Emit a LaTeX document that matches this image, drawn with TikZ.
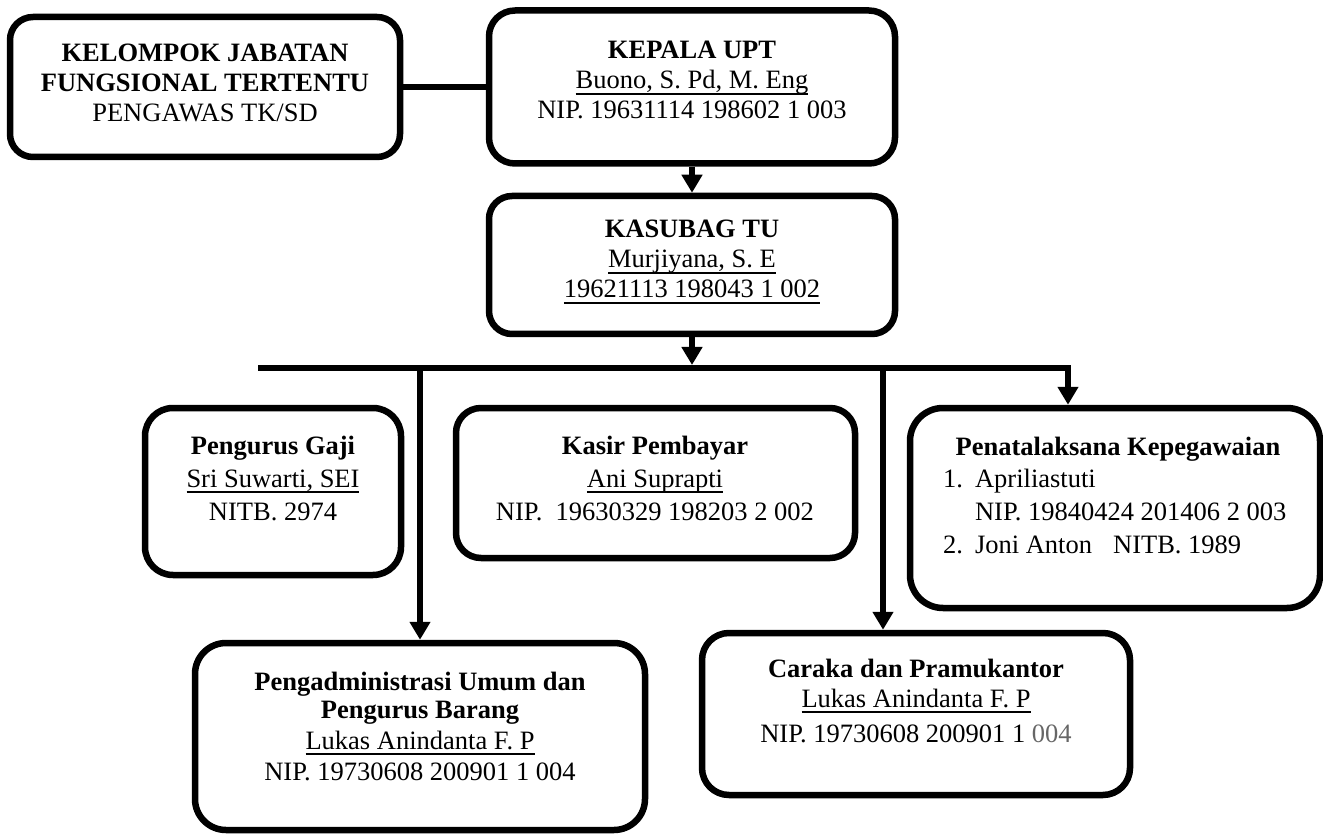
\documentclass[tikz,border=0pt]{standalone}
\usepackage{fontspec}
\setmainfont{Liberation Serif}
\usetikzlibrary{arrows.meta}
\newcommand\myul[1]{\setbox0\hbox{#1}\rlap{\rule[-6pt]{\wd0}{1.8pt}}\box0}
\begin{document}
\begin{tikzpicture}[x=1pt,y=-1pt,
  box/.style={draw, line width=6.5pt, inner sep=0pt},
  txt/.style={inner sep=0pt, anchor=base},
  fa/.style={font=\fontsize{26.5}{30}\selectfont},
  fb/.style={font=\fontsize{26.5}{33}\selectfont},
  fc/.style={font=\fontsize{26.5}{31}\selectfont},
  link/.style={line width=6pt},
  arr/.style={line width=6pt, -{Triangle[length=18pt,width=20pt]}}]
\useasboundingbox (0,0) rectangle (1323,834);

% boxes
\node[box, rounded corners=23pt, minimum width=390pt, minimum height=140pt] (kjf) at (205,87) {};
\node[box, rounded corners=26pt, minimum width=406pt, minimum height=153pt] (kepala) at (692,87) {};
\node[box, rounded corners=23pt, minimum width=406pt, minimum height=138pt] (kasubag) at (692,265) {};
\node[box, rounded corners=28pt, minimum width=256pt, minimum height=167pt] (gaji) at (273,491.5) {};
\node[box, rounded corners=25pt, minimum width=399pt, minimum height=150pt] (kasir) at (655.5,483) {};
\node[box, rounded corners=33pt, minimum width=410pt, minimum height=200pt] (penata) at (1115,508) {};
\node[box, rounded corners=31pt, minimum width=450pt, minimum height=187pt] (pengadm) at (420,736.5) {};
\node[box, rounded corners=27pt, minimum width=428pt, minimum height=162pt] (caraka) at (916,714) {};

% texts
\node[txt, fa] (kjft) at (205,62) {\begin{tabular}[t]{@{}c@{}}\textbf{KELOMPOK JABATAN}\\ \textbf{FUNGSIONAL TERTENTU}\\ PENGAWAS TK/SD\end{tabular}};
\node[txt, fa] (kepalat) at (692,59) {\begin{tabular}[t]{@{}c@{}}\textbf{KEPALA UPT}\\ \myul{Buono, S. Pd, M. Eng}\\ NIP. 19631114 198602 1 003\end{tabular}};
\node[txt, fa] (kasubagt) at (692,238) {\begin{tabular}[t]{@{}c@{}}\textbf{KASUBAG TU}\\ \myul{Murjiyana, S. E}\\ \myul{19621113 198043 1 002}\end{tabular}};
\node[txt, fb] (gajit) at (273,454) {\begin{tabular}[t]{@{}c@{}}\textbf{Pengurus Gaji}\\ \myul{Sri Suwarti, SEI}\\ NITB. 2974\end{tabular}};
\node[txt, fb] (kasirt) at (655,454) {\begin{tabular}[t]{@{}c@{}}\textbf{Kasir Pembayar}\\ \myul{Ani Suprapti}\\ NIP.\ \ 19630329 198203 2 002\end{tabular}};
\node[txt, fb] (penatah) at (1118,455) {\textbf{Penatalaksana Kepegawaian}};
\node[txt, fb, anchor=base west] (penatal) at (943,487) {\begin{tabular}[t]{@{}l@{\hspace{12pt}}l@{}}1. & Apriliastuti\\ & NIP. 19840424 201406 2 003\\ 2. & Joni Anton\hspace{21pt}NITB. 1989\end{tabular}};
\node[txt, fc] (pengadmt) at (420,690) {\begin{tabular}[t]{@{}c@{}}\textbf{Pengadministrasi Umum dan}\\[-3pt] \textbf{Pengurus Barang}\\ \myul{Lukas Anindanta F. P}\\ NIP. 19730608 200901 1 004\end{tabular}};
\node[txt, fa] (carakat) at (916,677) {\begin{tabular}[t]{@{}c@{}}\textbf{Caraka dan Pramukantor}\\ \myul{Lukas Anindanta F. P}\\[5pt] NIP. 19730608 200901 1 {\color{black!60}004}\end{tabular}};

% connectors
\coordinate (barL) at (258,368);
\coordinate (barR) at (1068,368);
\coordinate (barC) at (883,368);
\draw[link] (kjf.east) -- (kjf.east -| kepala.west);
\draw[arr] (kepala.south) -- (kasubag.north);
\draw[arr, shorten >=3pt] (kasubag.south) -- (kasubag.south |- barL);
\draw[arr] (barL) -- (barR) -- (barR |- penata.north);
\draw[arr] (pengadm.north |- barL) -- (pengadm.north);
\draw[arr] (barC) -- (barC |- caraka.north);
\end{tikzpicture}
\end{document}
